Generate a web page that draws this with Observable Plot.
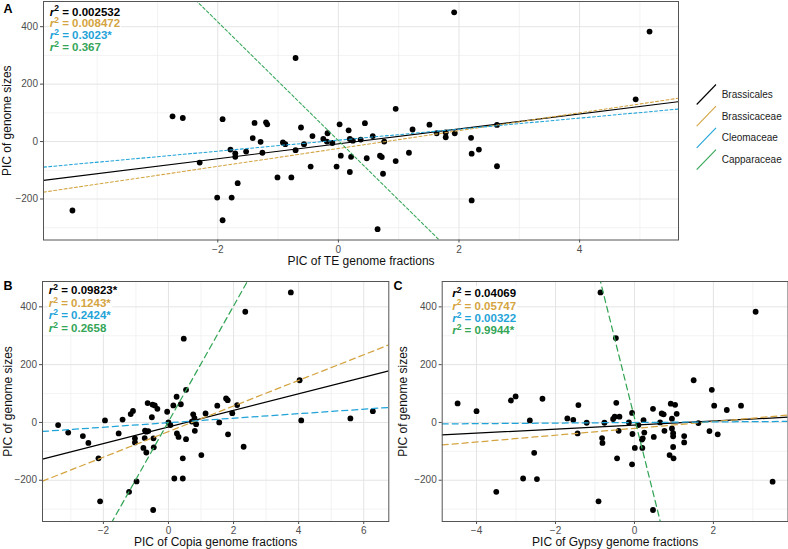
<!DOCTYPE html>
<html><head><meta charset="utf-8">
<script src="https://cdn.jsdelivr.net/npm/d3@7"></script>
<script src="https://cdn.jsdelivr.net/npm/@observablehq/plot@0.6"></script>
<style>
html,body{margin:0;padding:0;background:#fff;}
#root{position:relative;width:788px;height:549px;overflow:hidden;font-family:"Liberation Sans",Arial,Helvetica,sans-serif;}
#root > *{position:absolute;}
</style></head>
<body><div id="root"></div>
<script>
const families = ["Brassicales","Brassicaceae","Cleomaceae","Capparaceae"];
const familyColors = ["#000000","#D4A441","#1FA3D8","#34A557"];

// Panel A: PIC of TE genome fractions vs PIC of genome sizes
const teX = [-4.41,-2.75,-2.58,-2.30,-2.01,-1.92,-1.92,-1.79,-1.77,-1.71,
  -1.71,-1.67,-1.53,-1.42,-1.39,-1.29,-1.26,-1.20,-1.18,-1.01,
  -0.92,-0.88,-0.78,-0.71,-0.71,-0.62,-0.57,-0.46,-0.43,-0.25,
  -0.19,-0.18,-0.10,-0.03,0.02,0.04,0.17,0.19,0.19,0.21,
  0.24,0.37,0.44,0.47,0.57,0.65,0.69,0.72,0.74,0.76,
  0.95,0.95,1.17,1.23,1.51,1.63,1.78,1.78,1.93,1.92,
  2.20,2.21,2.33,2.21,2.63,2.63,4.93,5.16];
const teY = [-240,88,82,-73,-195,78,-274,-28,-195,-41,
  -53,-145,-35,12,65,-1,-39,67,60,-125,
  -3,-9,-125,-30,291,49,-9,-87,19,9,
  0,29,-5,-87,60,-49,39,9,-106,-53,
  3,7,64,-58,19,-305,-49,-54,-112,0,
  -68,114,-39,42,59,29,15,32,29,450,
  13,-42,-28,-205,-86,58,147,383];

// Panel B: PIC of Copia genome fractions
const copiaX = [-3.39,-3.08,-2.63,-2.46,-2.15,-2.10,-1.95,-1.53,-1.41,-1.21,
  -1.16,-1.09,-1.03,-1.03,-0.98,-0.77,-0.73,-0.72,-0.68,-0.68,
  -0.64,-0.62,-0.45,-0.47,-0.51,-0.49,-0.42,-0.46,-0.34,-0.04,
  0.00,0.06,0.15,0.25,0.26,0.31,0.38,0.44,0.44,0.18,
  0.47,0.54,0.54,0.72,0.76,0.80,0.81,0.85,1.01,1.14,
  1.50,1.56,1.77,1.82,1.83,1.96,2.11,2.31,2.36,3.76,
  4.03,4.08,5.59,6.28];
const copiaY = [-9,-35,-47,-71,-124,-273,7,-38,10,-240,
  29,40,-55,-69,-204,-88,-54,-28,-32,-104,
  67,-30,-86,-303,18,62,59,-55,47,37,
  0,-9,59,89,-38,-50,63,-124,-194,-194,
  290,113,-58,3,28,15,-29,-6,-113,31,
  58,0,83,77,-41,32,60,-84,383,450,
  146,7,14,39];

// Panel C: PIC of Gypsy genome fractions
const gypsyX = [-4.48,-4.00,-3.50,-3.13,-3.01,-2.82,-2.65,-2.54,-2.47,-2.33,
  -1.70,-1.55,-1.44,-1.42,-1.21,-0.91,-0.86,-0.82,-0.81,-0.76,
  -0.54,-0.50,-0.47,-0.46,-0.44,-0.40,-0.38,-0.14,-0.06,-0.05,
  -0.06,0.01,0.10,0.19,0.20,0.21,0.23,0.25,0.47,0.47,
  0.49,0.65,0.69,0.74,0.76,0.89,0.92,0.95,0.95,0.98,
  0.98,0.98,0.99,1.03,1.07,1.26,1.26,1.50,1.62,1.90,
  1.96,2.02,2.11,2.34,2.70,3.07,3.50];
const gypsyY = [66,39,-240,76,90,-194,7,-105,-196,82,
  14,9,-38,60,-1,-273,450,-54,-71,-1,
  12,20,292,68,-124,-29,20,0,33,-40,
  -145,-88,-9,-59,-88,-55,8,-35,47,-303,
  -50,0,31,28,-29,-113,65,13,-21,-48,
  -37,-85,-124,61,30,-47,-69,146,-2,-30,
  113,58,-41,43,58,383,-205];

// regression lines (slope, intercept) per family
const teSlope = [26, 31.05, 19.2, -206.75];
const teIntercept = [-8, -24.2, 4.9, 3.2];
const copiaSlope = [28.7, 44.3, 7.8, 200];
const copiaIntercept = [-15.7, -31.6, -0.9, 3];
const gypsySlope = [7, 11.8, 1, -548];
const gypsyIntercept = [-9, -20.5, -0.2, 16];

// r² annotations
const teR2 = ["0.002532","0.008472","0.3023*","0.367"];
const copiaR2 = ["0.09823*","0.1243*","0.2424*","0.2658"];
const gypsyR2 = ["0.04069","0.05747","0.00322","0.9944*"];

// ticks
const yTicks = [-200,0,200,400];
const yMinor = [-300,-100,100,300];
const teXTicks = [-2,0,2,4];
const teXMinor = [-4,-3,-1,1,3,5];
const copiaXTicks = [-2,0,2,4,6];
const copiaXMinor = [-3,-1,1,3,5];
const gypsyXTicks = [-4,-2,0,2];
const gypsyXMinor = [-3,-1,1,3];

const yLabel = "PIC of genome sizes";
const FONT = "'Liberation Sans', Arial, Helvetica, sans-serif";
const fmt = d => d < 0 ? "\u2212" + Math.abs(d) : String(d);

function makePanel(c) {
  const pts = c.xs.map((x, i) => ({x, y: c.ys[i]}));
  const ends = c.xDomain;
  const marks = [
    Plot.gridX(c.xMinor, {stroke: "#eeeeee", strokeOpacity: 1, strokeWidth: 0.7}),
    Plot.gridY(yMinor, {stroke: "#eeeeee", strokeOpacity: 1, strokeWidth: 0.7}),
    Plot.gridX(c.xTicks, {stroke: "#e4e4e4", strokeOpacity: 1, strokeWidth: 1}),
    Plot.gridY(yTicks, {stroke: "#e4e4e4", strokeOpacity: 1, strokeWidth: 1}),
    Plot.axisX(c.xTicks, {tickSize: 3, tickPadding: 2.5, tickFormat: fmt, color: "#4d4d4d", fontSize: 10, label: null}),
    Plot.axisY(yTicks, {tickSize: 3, tickPadding: 2.5, tickFormat: fmt, color: "#4d4d4d", fontSize: 10, label: null}),
    Plot.dot(pts, {x: "x", y: "y", r: 2.9, fill: "#000", stroke: "none"}),
    ...families.map((f, i) => Plot.line(ends, {
      x: d => d, y: d => c.intercept[i] + c.slope[i] * d,
      stroke: familyColors[i], strokeWidth: c.lw,
      strokeDasharray: i === 0 ? undefined : c.dash, clip: true
    })),
    Plot.frame({stroke: "#555555", strokeWidth: 1}),
    ...c.r2.map((v, i) => Plot.text(["r\u00b2 = " + v], {
      text: d => d, frameAnchor: "top-left", textAnchor: "start", lineAnchor: "middle",
      dx: c.r2dx, dy: c.r2dy + c.r2step * i, fill: familyColors[i],
      fontWeight: "bold", fontSize: 11.5
    })),
    Plot.text([c.xTitle], {text: d => d, frameAnchor: "bottom", lineAnchor: "middle", dy: 21, fontSize: 12, fill: "#111"}),
    Plot.text([yLabel], {text: d => d, frameAnchor: "left", rotate: -90, lineAnchor: "middle", textAnchor: "middle", dx: c.yTitleDx, fontSize: 12, fill: "#111"}),
    Plot.text([c.letter], {text: d => d, frameAnchor: "top-left", textAnchor: "start", lineAnchor: "middle", dx: c.letterDx, dy: c.letterDy, fontWeight: "bold", fontSize: 12.5, fill: "#000"})
  ];
  const svg = Plot.plot({
    width: c.width, height: c.height,
    marginTop: c.mt, marginRight: c.mr, marginBottom: c.mb, marginLeft: c.ml,
    x: {domain: c.xDomain},
    y: {domain: [-342.75, 487.75]},
    style: {fontFamily: FONT, fontSize: "10px", background: "transparent", overflow: "visible"},
    marks
  });
  // italic r with raised 2 in r² annotations
  d3.select(svg).selectAll("text").each(function() {
    const t = this.textContent;
    if (t.startsWith("r\u00b2 = ")) {
      const el = d3.select(this).classed("r2label", true);
      el.text(null);
      el.append("tspan").attr("font-style", "italic").text("r");
      el.append("tspan").attr("font-size", 8.5).attr("dy", -4.2).text("2");
      el.append("tspan").attr("dy", 4.2).text(t.slice(2));
    }
  });
  svg.style.position = "absolute";
  svg.style.left = c.left + "px";
  svg.style.top = c.top + "px";
  return svg;
}

const root = document.getElementById("root");

const panels = [
  makePanel({
    letter: "A", xs: teX, ys: teY, slope: teSlope, intercept: teIntercept, r2: teR2,
    xTicks: teXTicks, xMinor: teXMinor, xDomain: [-4.89, 5.64],
    xTitle: "PIC of TE genome fractions",
    left: 0, top: 0, width: 680, height: 272, mt: 1, mr: 2, mb: 32.5, ml: 43,
    lw: 1.05, dash: "3,2.2",
    r2dx: 6.3, r2dy: 10.5, r2step: 11.8,
    yTitleDx: -36.5, letterDx: -40, letterDy: 7
  }),
  makePanel({
    letter: "B", xs: copiaX, ys: copiaY, slope: copiaSlope, intercept: copiaIntercept, r2: copiaR2,
    xTicks: copiaXTicks, xMinor: copiaXMinor, xDomain: [-3.87, 6.77],
    xTitle: "PIC of Copia genome fractions",
    left: 0, top: 275, width: 400, height: 274, mt: 6, mr: 11.7, mb: 28, ml: 42,
    lw: 1.25, dash: "6,4",
    r2dx: 6.3, r2dy: 9.2, r2step: 12.5,
    yTitleDx: -34.8, letterDx: -39, letterDy: 4.5
  }),
  makePanel({
    letter: "C", xs: gypsyX, ys: gypsyY, slope: gypsySlope, intercept: gypsyIntercept, r2: gypsyR2,
    xTicks: gypsyXTicks, xMinor: gypsyXMinor, xDomain: [-4.87, 3.89],
    xTitle: "PIC of Gypsy genome fractions",
    left: 390, top: 275, width: 398, height: 274, mt: 6, mr: 0.5, mb: 28, ml: 51.7,
    lw: 1.25, dash: "6,4",
    r2dx: 10, r2dy: 12.2, r2step: 12.3,
    yTitleDx: -38.9, letterDx: -48.7, letterDy: 4.5
  })
];
panels.forEach(p => root.appendChild(p));

// white boxes behind r² annotations (as in the reference)
panels.forEach(p => {
  d3.select(p).selectAll("text.r2label").each(function() {
    const b = this.getBBox();
    const r = document.createElementNS("http://www.w3.org/2000/svg", "rect");
    r.setAttribute("x", b.x - 1);
    r.setAttribute("y", b.y + 1);
    r.setAttribute("width", b.width + 2);
    r.setAttribute("height", b.height - 1);
    r.setAttribute("fill", "#ffffff");
    const tr = this.getAttribute("transform");
    if (tr) r.setAttribute("transform", tr);
    this.parentNode.insertBefore(r, this);
  });
});

// legend
const leg = d3.create("svg").attr("width", 98).attr("height", 100)
  .style("position", "absolute").style("left", "690px").style("top", "80px")
  .style("font-family", FONT);
families.forEach((f, i) => {
  const cy = 14.5 + 21.7 * i;
  leg.append("line").attr("x1", 6.7).attr("y1", cy + 10).attr("x2", 26).attr("y2", cy - 10)
    .attr("stroke", familyColors[i]).attr("stroke-width", 1.1);
  leg.append("text").attr("x", 31.7).attr("y", cy).attr("dy", "0.35em")
    .attr("font-size", 10).attr("fill", "#222").text(f);
});
root.appendChild(leg.node());
</script>
</body></html>
